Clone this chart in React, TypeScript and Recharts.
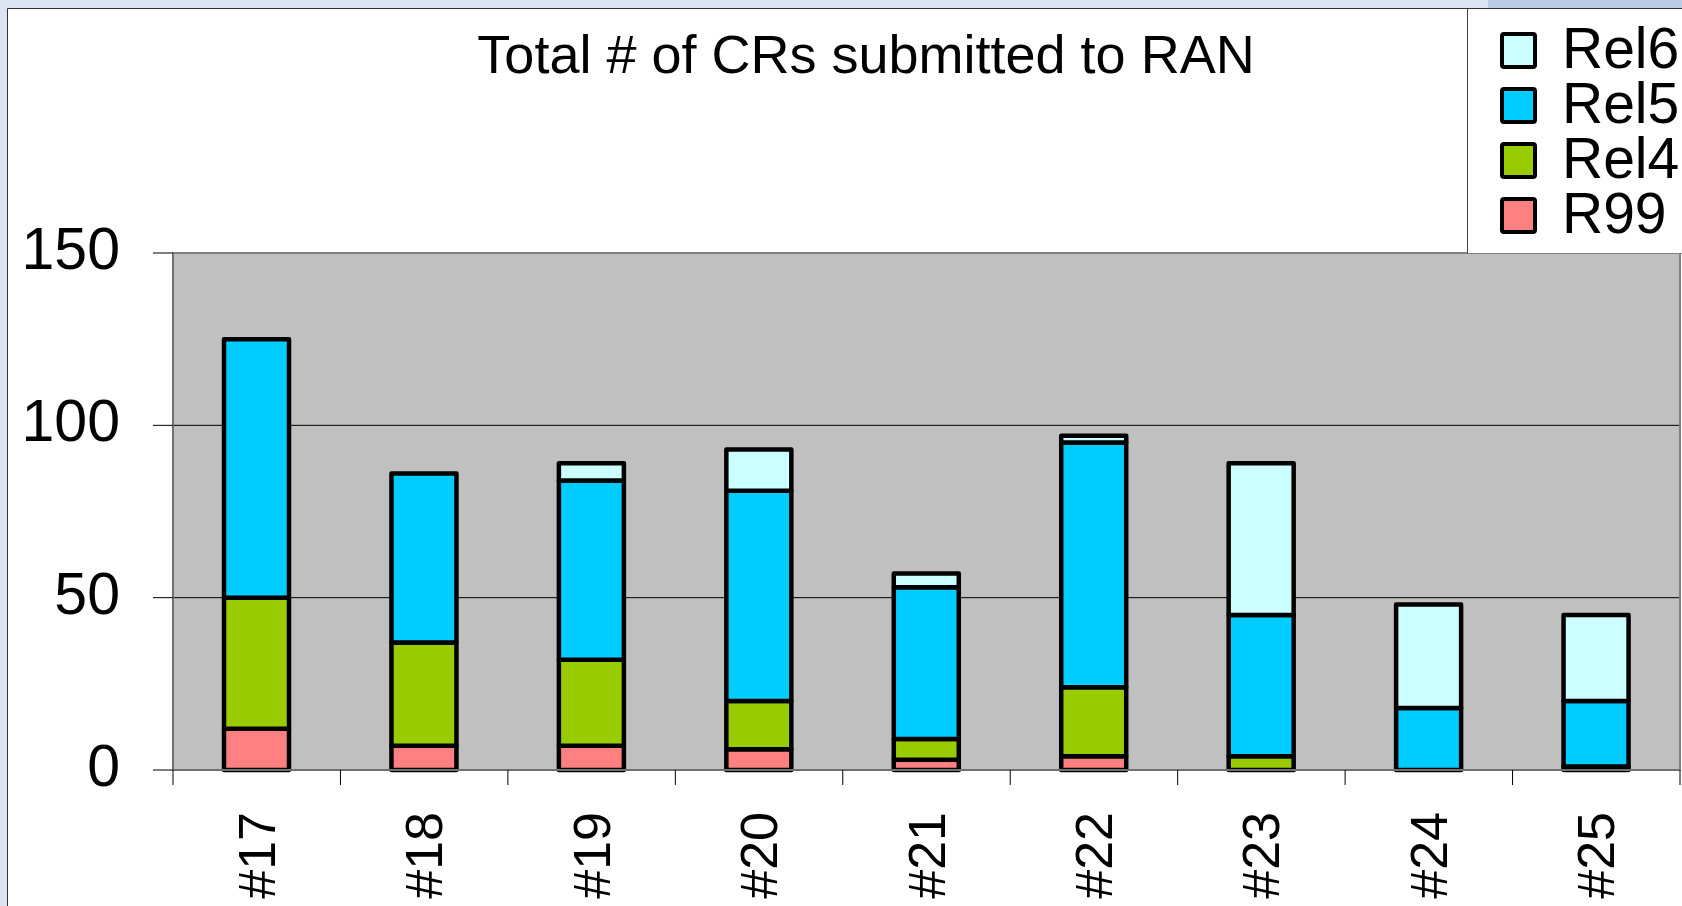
import React from 'react';
import { BarChart, Bar, XAxis, YAxis, CartesianGrid, Legend, ReferenceArea } from 'recharts';

// ---- data ----
const categories = ['#17', '#18', '#19', '#20', '#21', '#22', '#23', '#24', '#25'];
const r99 = [12, 7, 7, 6, 3, 4, 0, 0, 1];
const rel4 = [38, 30, 25, 14, 6, 20, 4, 0, 0];
const rel5 = [75, 49, 52, 61, 44, 71, 41, 18, 19];
const rel6 = [0, 0, 5, 12, 4, 2, 44, 30, 25];
const seriesNames = ['R99', 'Rel4', 'Rel5', 'Rel6'];
const seriesColors = ['#ff8080', '#99cc00', '#00ccff', '#ccffff'];
const yTicks = [0, 50, 100, 150];
const title = 'Total # of CRs submitted to RAN';

const seriesValues = [r99, rel4, rel5, rel6];
const data = categories.map((c, i) => {
  const row: any = { cat: c };
  seriesNames.forEach((s, k) => {
    row[s] = seriesValues[k][i];
  });
  return row;
});

// ---- layout / style ----
const FONT = '"Liberation Sans", Arial, Helvetica, sans-serif';
const W = 1682;
const H = 906;
const PLOT_LEFT = 173;
const PLOT_RIGHT = 2;
const PLOT_TOP = 253;
const X_AXIS_H = 136;
const BAND = (W - PLOT_LEFT - PLOT_RIGHT) / categories.length;
const BAR_STROKE = 4.5;

const YTick = (props: any) => {
  const { x, y, payload } = props;
  return (
    <text x={x} y={y + 16} textAnchor="end" fontSize={59} fontFamily={FONT} fill="#000">
      {payload.value}
    </text>
  );
};

const XTick = (props: any) => {
  const { x, y, payload } = props;
  const last = payload.value === categories[categories.length - 1];
  const ty = y + 42;
  return (
    <g>
      <line x1={x - BAND / 2} x2={x - BAND / 2} y1={y} y2={y + 15} stroke="#000" strokeWidth={1} />
      {last && <line x1={x + BAND / 2} x2={x + BAND / 2} y1={y} y2={y + 15} stroke="#000" strokeWidth={1} />}
      <text
        x={x}
        y={ty}
        transform={`rotate(-90, ${x}, ${ty})`}
        textAnchor="end"
        dominantBaseline="central"
        fontSize={52}
        fontFamily={FONT}
        fill="#000"
      >
        {payload.value}
      </text>
    </g>
  );
};

const BarShape = (props: any) => {
  const { x, y, width, height, fill } = props;
  if (!height || height <= 0 || !width) return null;
  return (
    <rect
      x={x}
      y={y}
      width={width}
      height={height}
      fill={fill}
      stroke="#000"
      strokeWidth={BAR_STROKE}
      strokeLinejoin="round"
    />
  );
};

const LegendContent = () => {
  const order = [3, 2, 1, 0];
  return (
    <svg width={214} height={244} style={{ display: 'block', overflow: 'hidden' }}>
      {order.map((k, i) => (
        <g key={seriesNames[k]}>
          <rect
            x={34}
            y={25 + i * 55}
            width={33}
            height={33}
            rx={2}
            fill={seriesColors[k]}
            stroke="#000"
            strokeWidth={4}
          />
          <text x={94} y={59 + i * 55} fontSize={57} fontFamily={FONT} fill="#000">
            {seriesNames[k]}
          </text>
        </g>
      ))}
    </svg>
  );
};

export default function App() {
  return (
    <div
      style={{
        position: 'fixed',
        left: 0,
        top: 0,
        width: W,
        height: H,
        overflow: 'hidden',
        background: '#dbe5f1',
      }}
    >
      <svg width={W} height={H} style={{ position: 'absolute', left: 0, top: 0 }}>
        <rect x={0} y={0} width={W} height={8} fill="#dce6f1" />
        <rect x={1488} y={0} width={W - 1488} height={8} fill="#b9cde4" />
        <rect x={8} y={9} width={W - 8} height={H - 9} fill="#ffffff" />
        <line x1={7.5} y1={8.5} x2={7.5} y2={H} stroke="#333" strokeWidth={1} />
        <line x1={7.5} y1={8.5} x2={W} y2={8.5} stroke="#333" strokeWidth={1} />
      </svg>
      <div style={{ position: 'absolute', left: 0, top: 0 }}>
        <BarChart
          width={W}
          height={H}
          data={data}
          margin={{ top: PLOT_TOP, right: PLOT_RIGHT, bottom: 0, left: 0 }}
          barCategoryGap={0}
        >
          <CartesianGrid vertical={false} stroke="#000" strokeWidth={1} fill="#c0c0c0" fillOpacity={1} />
          <XAxis
            dataKey="cat"
            height={X_AXIS_H}
            tickLine={false}
            tickSize={0}
            tickMargin={0}
            interval={0}
            axisLine={{ stroke: '#707070', strokeWidth: 2 }}
            tick={<XTick />}
          />
          <YAxis
            width={PLOT_LEFT}
            domain={[0, 150]}
            ticks={yTicks}
            interval={0}
            tickSize={20}
            tickMargin={33}
            tickLine={{ stroke: '#000', strokeWidth: 1 }}
            axisLine={{ stroke: '#707070', strokeWidth: 2 }}
            tick={<YTick />}
          />
          <ReferenceArea
            y1={0}
            y2={150}
            fill="none"
            stroke="#808080"
            strokeWidth={2}
            ifOverflow="visible"
          />
          {seriesNames.map((s, k) => (
            <Bar
              key={s}
              dataKey={s}
              stackId="a"
              fill={seriesColors[k]}
              stroke="#000"
              strokeWidth={BAR_STROKE}
              barSize={65}
              shape={<BarShape />}
              isAnimationActive={false}
            />
          ))}
          <Legend
            layout="horizontal"
            verticalAlign="middle"
            align="center"
            content={<LegendContent />}
            wrapperStyle={{
              position: 'absolute',
              left: 1467,
              top: 9,
              width: 215,
              height: 245,
              background: '#fff',
              borderLeft: '1px solid #404040',
              borderBottom: '1px solid #808080',
              boxSizing: 'border-box',
              margin: 0,
            }}
          />
        </BarChart>
      </div>
      <svg width={W} height={120} style={{ position: 'absolute', left: 0, top: 0, pointerEvents: 'none' }}>
        <text x={866} y={73} textAnchor="middle" fontSize={54} fontFamily={FONT} fill="#000">
          {title}
        </text>
      </svg>
    </div>
  );
}
